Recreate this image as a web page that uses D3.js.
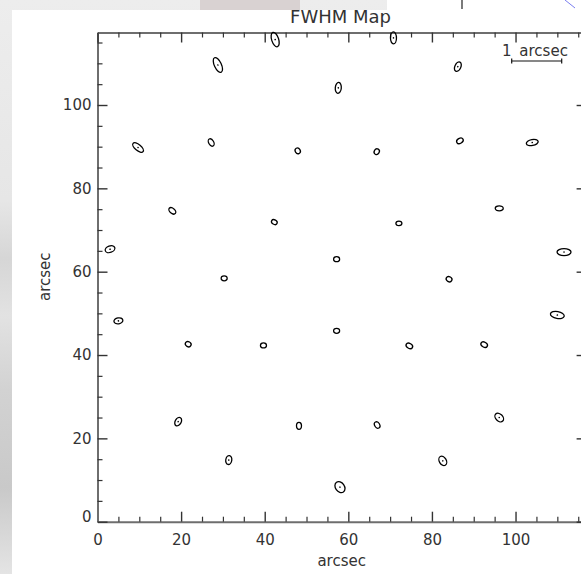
<!DOCTYPE html>
<html>
<head>
<meta charset="utf-8">
<script src="https://cdn.jsdelivr.net/npm/d3@7"></script>
<style>
  html, body { margin: 0; padding: 0; background: #e6e6e6; }
  svg { display: block; }
  text { font-family: "DejaVu Sans", sans-serif; fill: #333; }
</style>
</head>
<body>
<div id="chart"></div>
<script>
// ---------- data (arcsec) ----------
var fwhmX     = [42.5, 70.8, 28.8, 86.2, 57.6, 9.7, 27.2, 47.9, 66.8, 86.7, 104.0, 17.9, 42.3, 72.1, 96.1, 3.0, 57.2, 111.6, 30.3, 84.1, 5.0, 110.0, 57.2, 21.7, 39.7, 74.6, 92.5, 19.3, 48.2, 66.9, 96.1, 31.4, 82.6, 58.0];
var fwhmY     = [115.7, 116.1, 109.6, 109.2, 104.1, 89.8, 91.0, 89.0, 88.8, 91.4, 91.0, 74.6, 71.9, 71.6, 75.2, 65.4, 63.0, 64.7, 58.4, 58.2, 48.2, 49.6, 45.8, 42.6, 42.3, 42.2, 42.5, 24.0, 23.0, 23.2, 25.0, 14.8, 14.6, 8.3];
// FWHM major / minor axis (arcsec) and position angle (deg, screen)
var fwhmMajor = [0.30, 0.24, 0.32, 0.20, 0.22, 0.26, 0.16, 0.12, 0.12, 0.14, 0.24, 0.16, 0.12, 0.12, 0.16, 0.20, 0.12, 0.28, 0.12, 0.12, 0.18, 0.28, 0.12, 0.12, 0.12, 0.14, 0.14, 0.18, 0.14, 0.14, 0.20, 0.18, 0.20, 0.24];
var fwhmMinor = [0.14, 0.12, 0.14, 0.12, 0.12, 0.12, 0.10, 0.10, 0.10, 0.10, 0.12, 0.10, 0.09, 0.09, 0.10, 0.13, 0.10, 0.14, 0.10, 0.10, 0.12, 0.14, 0.10, 0.10, 0.10, 0.10, 0.10, 0.12, 0.10, 0.10, 0.14, 0.12, 0.14, 0.18];
var fwhmAngle = [72, 90, 65, 115, 95, 40, 60, 60, 120, -30, -10, 40, 30, 0, 0, -20, 0, 0, 0, 30, -10, 10, 0, 30, 0, 30, 30, -60, 90, 60, 45, 100, 60, 55];
var majorTicks = [0, 20, 40, 60, 80, 100];
var scaleBarArcsec = 1;

// ---------- layout ----------
var W = 581, H = 574;
var svg = d3.select('#chart').append('svg').attr('width', W).attr('height', H);

// blurred slide background
var defs = svg.append('defs');
var lg = defs.append('linearGradient').attr('id', 'bgGrad').attr('x1', 0).attr('y1', 0).attr('x2', 0).attr('y2', 1);
[[0, '#ededed'], [0.35, '#e6e6e6'], [0.45, '#d6d6d6'], [0.55, '#e2e2e2'], [0.68, '#d2d2d2'], [0.85, '#c9c9c9'], [1, '#e4e4e4']]
  .forEach(function (s) { lg.append('stop').attr('offset', s[0]).attr('stop-color', s[1]); });
svg.append('rect').attr('width', W).attr('height', H).attr('fill', 'url(#bgGrad)');
svg.append('rect').attr('x', 200).attr('y', 0).attr('width', 100).attr('height', 10).attr('fill', '#d9d2d2');
svg.append('rect').attr('x', 12).attr('y', 10).attr('width', W - 12).attr('height', H - 10).attr('fill', '#fff');
svg.append('rect').attr('x', 387).attr('y', 0).attr('width', W - 387).attr('height', 10).attr('fill', '#fff');
svg.append('line').attr('x1', 462).attr('x2', 462).attr('y1', 0).attr('y2', 9).attr('stroke', '#222').attr('stroke-width', 1.2);
svg.append('line').attr('x1', 565).attr('y1', 0).attr('x2', 575).attr('y2', 8).attr('stroke', '#7a7ef0').attr('stroke-width', 1);

var x = d3.scaleLinear().domain([0, 117]).range([97.5, 586.6]);
var y = d3.scaleLinear().domain([0, 117.4]).range([521.7, 32.5]);
var PX_PER_ARCSEC = 50;
var minorTicks = d3.range(0, 117, 5).filter(function (v) { return v % 20 !== 0; });

function styleAxis(g) {
  g.select('.domain').attr('stroke', '#6e6e6e').attr('stroke-width', 2);
  g.selectAll('.tick line').attr('stroke', '#333').attr('stroke-width', 1.4);
  g.selectAll('.tick text').attr('font-size', 15).attr('fill', '#3a3a3a').attr('font-family', '"DejaVu Sans", sans-serif');
}

// major axes with labels
svg.append('g').attr('transform', 'translate(0,' + y(0) + ')')
  .call(d3.axisBottom(x).tickValues(majorTicks).tickSize(-10).tickSizeOuter(0).tickPadding(13).tickFormat(d3.format('d')))
  .call(styleAxis);
svg.append('g').attr('transform', 'translate(' + x(0) + ',0)')
  .call(d3.axisLeft(y).tickValues(majorTicks).tickSize(-10).tickSizeOuter(0).tickPadding(6).tickFormat(d3.format('d')))
  .call(styleAxis)
  .call(function (g) { g.selectAll('.tick text').filter(function (d) { return d === 0; }).attr('dy', '-0.02em'); });
svg.append('g').attr('transform', 'translate(0,' + y(117.4) + ')')
  .call(d3.axisTop(x).tickValues(majorTicks).tickSize(-10).tickSizeOuter(0).tickFormat(''))
  .call(styleAxis);
svg.append('g').attr('transform', 'translate(' + x(117) + ',0)')
  .call(d3.axisRight(y).tickValues(majorTicks).tickSize(-10).tickSizeOuter(0).tickFormat(''))
  .call(styleAxis);

// minor ticks
function minor(axis, tr) {
  svg.append('g').attr('transform', tr).call(axis.tickValues(minorTicks).tickSize(-5).tickSizeOuter(0).tickFormat(''))
    .call(styleAxis).call(function (g) { g.select('.domain').remove(); g.selectAll('.tick line').attr('stroke-width', 1.2); });
}
minor(d3.axisBottom(x), 'translate(0,' + y(0) + ')');
minor(d3.axisTop(x), 'translate(0,' + y(117.4) + ')');
minor(d3.axisLeft(y), 'translate(' + x(0) + ',0)');
minor(d3.axisRight(y), 'translate(' + x(117) + ',0)');

// titles
svg.append('text').attr('x', 340.5).attr('y', 22.7).attr('text-anchor', 'middle').attr('font-size', 18).text('FWHM Map');
svg.append('text').attr('x', 341.7).attr('y', 566).attr('text-anchor', 'middle').attr('font-size', 15).text('arcsec');
svg.append('text').attr('transform', 'translate(49.5,276.7) rotate(-90)').attr('text-anchor', 'middle').attr('font-size', 15).text('arcsec');

// scale bar
var bx0 = 511.7, by0 = 61;
var bar = svg.append('g').attr('stroke', '#111').attr('stroke-width', 1.2);
bar.append('line').attr('x1', bx0).attr('x2', bx0 + scaleBarArcsec * PX_PER_ARCSEC).attr('y1', by0).attr('y2', by0);
bar.append('line').attr('x1', bx0).attr('x2', bx0).attr('y1', by0 - 2.5).attr('y2', by0 + 2.5);
bar.append('line').attr('x1', bx0 + scaleBarArcsec * PX_PER_ARCSEC).attr('x2', bx0 + scaleBarArcsec * PX_PER_ARCSEC).attr('y1', by0 - 2.5).attr('y2', by0 + 2.5);
svg.append('text').attr('x', 502).attr('y', 55.5).attr('font-size', 15).style('word-spacing', '3px').text(scaleBarArcsec + ' arcsec');

// ellipses
var pts = fwhmX.map(function (v, i) { return { x: v, y: fwhmY[i], a: fwhmMajor[i], b: fwhmMinor[i], t: fwhmAngle[i] }; });
var gE = svg.append('g');
var eg = gE.selectAll('g').data(pts).join('g')
  .attr('transform', function (d) { return 'translate(' + x(d.x) + ',' + y(d.y) + ') rotate(' + d.t + ')'; });
eg.append('ellipse').attr('rx', function (d) { return d.a * PX_PER_ARCSEC / 2; }).attr('ry', function (d) { return d.b * PX_PER_ARCSEC / 2; })
  .attr('fill', 'none').attr('stroke', '#000').attr('stroke-width', 1.3);
eg.filter(function (d) { return d.a >= 0.18; }).append('circle').attr('r', 0.8).attr('fill', '#000');
</script>
</body>
</html>
